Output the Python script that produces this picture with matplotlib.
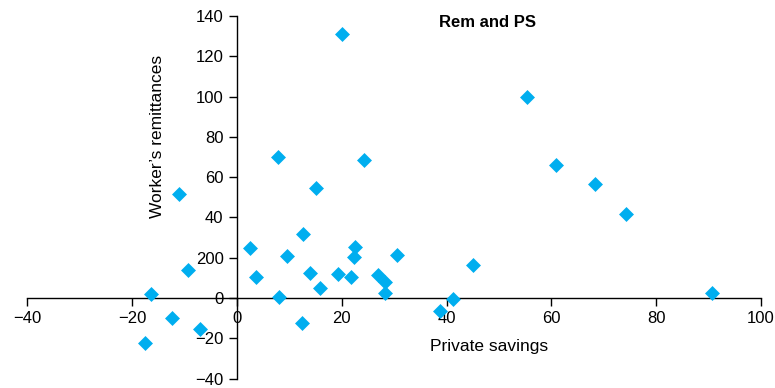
import matplotlib.pyplot as plt

plt.rcParams['font.family'] = ['Liberation Sans', 'DejaVu Sans']

# private savings (x) vs worker's remittances (y)
savings = [20.0, 55.3, 60.9, 68.3, 74.2, 90.6,
           7.8, 24.3, 15.1, -11.1, 12.7, 2.5,
           22.5, 9.5, 30.5, 22.3, -9.4, 45.1,
           3.6, 14.0, 19.3, 21.8, 26.9, 28.2,
           15.9, 28.2, -16.4, 8.1, 41.3, 38.7,
           -12.3, 12.4, -7.1, -17.6]
remittances = [131.0, 99.6, 66.0, 56.4, 41.9, 2.5,
               70.1, 68.4, 54.8, 51.5, 31.7, 24.6,
               25.1, 20.9, 21.3, 20.6, 14.0, 16.5,
               10.7, 12.4, 11.9, 10.7, 11.4, 7.8,
               4.9, 2.5, 2.0, 0.3, -0.5, -6.6,
               -9.7, -12.4, -15.3, -22.4]

xticks = [-40, -20, 0, 20, 40, 60, 80, 100]
yticks = [-40, -20, 0, 20, 40, 60, 80, 100, 120, 140]
ytick_labels = ['\u221240', '\u221220', '0', '200', '40', '60', '80', '100', '120', '140']

fig = plt.figure(figsize=(7.75, 3.88), dpi=100)
ax = fig.add_axes([0.035, 0.024, 0.947, 0.935])

ax.scatter(savings, remittances, marker='D', s=58, color='#00AEEF',
           linewidths=0, zorder=3)

ax.set_xlim(-40, 100)
ax.set_ylim(-40, 140)

ax.spines['left'].set_position(('data', 0))
ax.spines['bottom'].set_position(('data', 0))
ax.spines['right'].set_visible(False)
ax.spines['top'].set_visible(False)
for s in ['left', 'bottom']:
    ax.spines[s].set_linewidth(1.0)

ax.set_xticks(xticks)
ax.set_yticks(yticks)
ax.set_yticklabels(ytick_labels)
ax.tick_params(axis='both', labelsize=12, length=6, width=1.0, direction='out')

ax.text(0.63, 0.09, 'Private savings', transform=ax.transAxes,
        ha='center', va='center', fontsize=12.5)
ax.text(0.177, 0.668, "Worker\u2019s remittances", transform=ax.transAxes,
        ha='center', va='center', rotation=90, fontsize=12.5)
ax.text(0.627, 0.983, 'Rem and PS', transform=ax.transAxes,
        ha='center', va='center', fontsize=12, fontweight='bold')

fig.savefig('out.png', dpi=100)
